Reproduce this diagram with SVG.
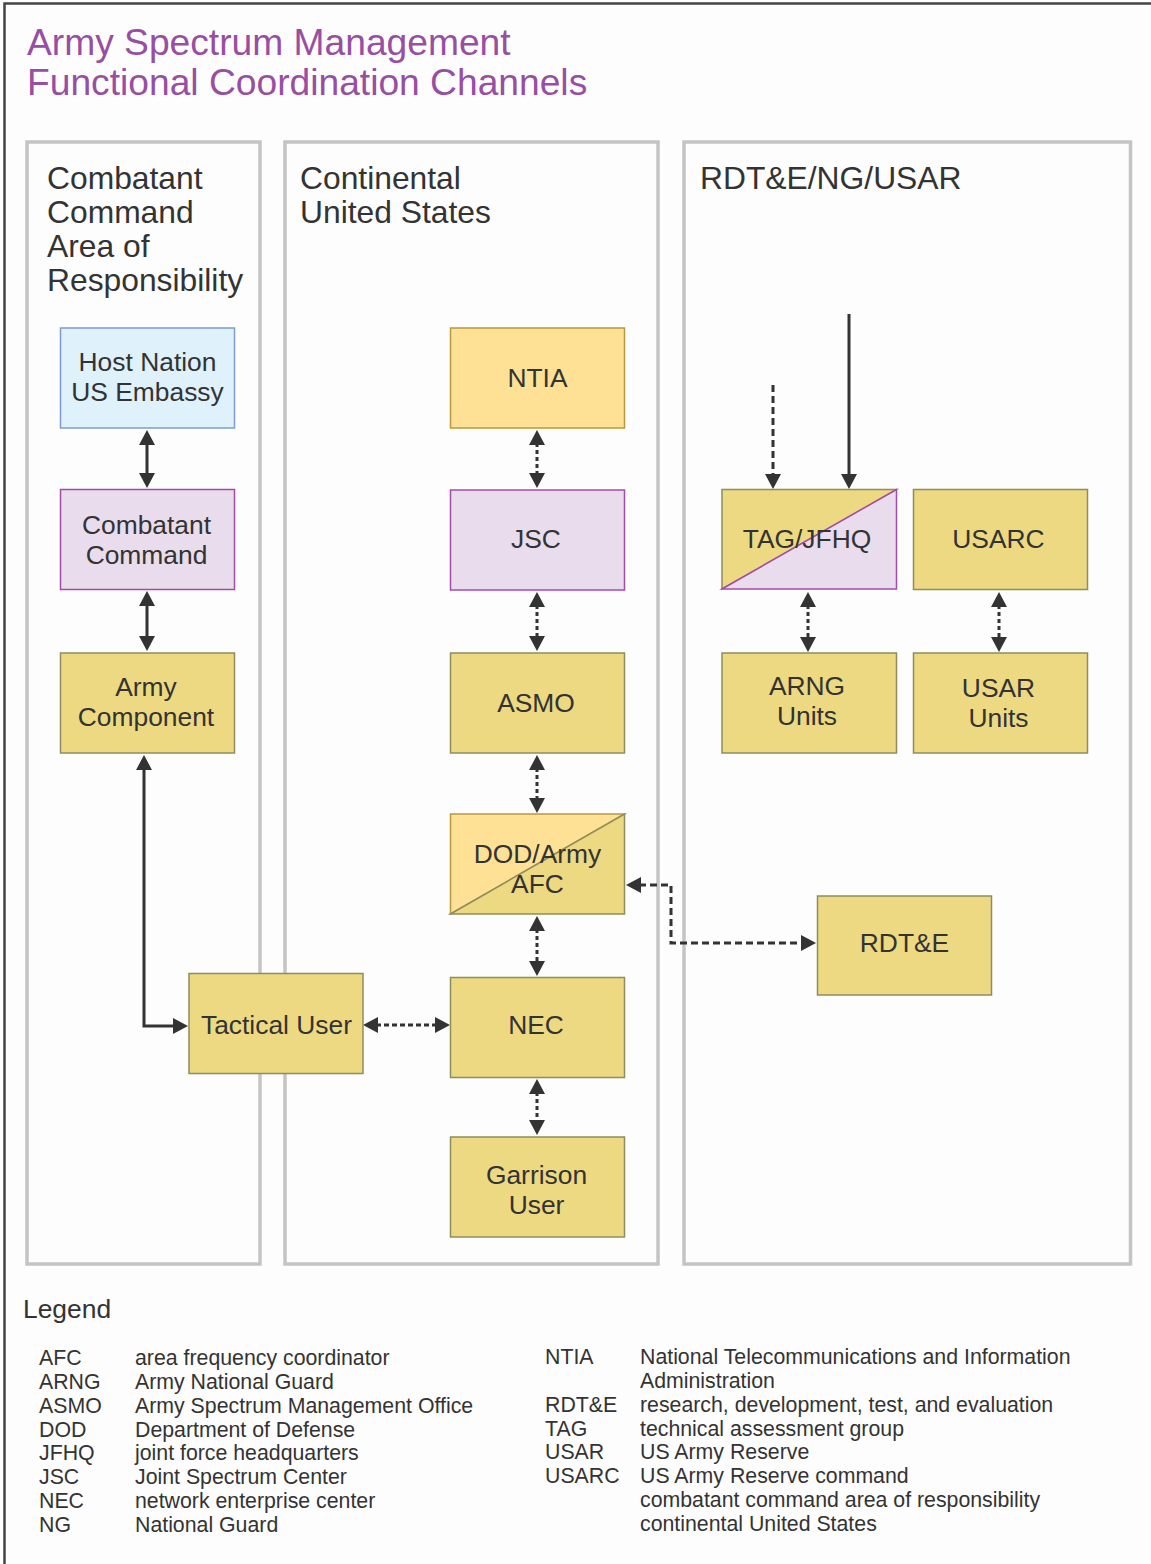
<svg xmlns="http://www.w3.org/2000/svg" width="1151" height="1564" viewBox="0 0 1151 1564">
<style>
text{font-family:"Liberation Sans",Arial,sans-serif;fill:#333333}
.title{font-size:37.2px;fill:#984ea3}
.hdr{font-size:31.8px}
.nt{font-size:26.4px;text-anchor:middle}
.lg{font-size:21.3px}
.panel{fill:none;stroke:#c4c4c4;stroke-width:3.5}
.yel{fill:#edd982;stroke:#8f8d5f;stroke-width:1.5}
.gold{fill:#ffe196;stroke:#b8993b;stroke-width:1.5}
.lil{fill:#e9dcec;stroke:#a54ba8;stroke-width:1.5}
.blu{fill:#dff1fb;stroke:#7c9cd3;stroke-width:1.5}
.c{fill:none;stroke:#333333;stroke-width:3}
.dot{stroke-dasharray:4 3}
.dsh{stroke-dasharray:7 4}
.tdot{stroke-dasharray:5 3}
.ab{marker-start:url(#ah);marker-end:url(#ah)}
.ae{marker-end:url(#ah)}
</style>
<defs>
<marker id="ah" markerUnits="userSpaceOnUse" markerWidth="16" markerHeight="16" refX="2" refY="8" orient="auto-start-reverse">
<path d="M0,0 L15,8 L0,16 Z" fill="#333333"/>
</marker>
</defs>
<rect x="0" y="0" width="1151" height="1564" fill="#fdfdfd"/>
<path d="M4.5,1564 V3.5 H1151" fill="none" stroke="#444444" stroke-width="2.5"/>
<g id="title">
<text class="title" x="27" y="55">Army Spectrum Management</text>
<text class="title" x="27" y="95">Functional Coordination Channels</text>
</g>
<g id="panels">
<rect class="panel" x="27" y="142" width="233" height="1122"/>
<rect class="panel" x="285" y="142" width="373" height="1122"/>
<rect class="panel" x="684" y="142" width="446.5" height="1122"/>
<text class="hdr" x="47" y="189">Combatant</text>
<text class="hdr" x="47" y="223">Command</text>
<text class="hdr" x="47" y="257">Area of</text>
<text class="hdr" x="47" y="291">Responsibility</text>
<text class="hdr" x="300" y="189">Continental</text>
<text class="hdr" x="300" y="223">United States</text>
<text class="hdr" x="700" y="189">RDT&amp;E/NG/USAR</text>
</g>
<g id="connectors">
<path class="c ab" d="M147,443 V475"/>
<path class="c ab" d="M147,604 V638"/>
<path class="c ab" d="M144,768 V1026 H175"/>
<path class="c dot ab" d="M537,443 V475"/>
<path class="c dot ab" d="M537,605 V638"/>
<path class="c dot ab" d="M537,768 V800"/>
<path class="c dot ab" d="M537,929 V963"/>
<path class="c dot ab" d="M537,1092 V1122"/>
<path class="c tdot ab" d="M376,1025 H437"/>
<path class="c dsh ab" d="M639,885 H671 V943 H803"/>
<path class="c dsh ae" d="M773,385 V476"/>
<path class="c ae" d="M849,314 V476"/>
<path class="c dot ab" d="M808,605 V639"/>
<path class="c dot ab" d="M999,605 V639"/>
</g>
<g id="host-nation">
<rect class="blu" x="60.5" y="328" width="174" height="100"/>
<text class="nt" x="147.5" y="371">Host Nation</text>
<text class="nt" x="147.5" y="401">US Embassy</text>
</g>
<g id="combatant-command">
<rect class="lil" x="60.5" y="489.5" width="174" height="100"/>
<text class="nt" x="146.5" y="534">Combatant</text>
<text class="nt" x="146.5" y="564">Command</text>
</g>
<g id="army-component">
<rect class="yel" x="60.5" y="653" width="174" height="100"/>
<text class="nt" x="146" y="696">Army</text>
<text class="nt" x="146" y="726">Component</text>
</g>
<g id="tactical-user">
<rect class="yel" x="189" y="973.5" width="174" height="100"/>
<text class="nt" x="276.5" y="1034">Tactical User</text>
</g>
<g id="ntia">
<rect class="gold" x="450.5" y="328" width="174" height="100"/>
<text class="nt" x="537.5" y="387">NTIA</text>
</g>
<g id="jsc">
<rect class="lil" x="450.5" y="490" width="174" height="100"/>
<text class="nt" x="536" y="548">JSC</text>
</g>
<g id="asmo">
<rect class="yel" x="450.5" y="653" width="174" height="100"/>
<text class="nt" x="536" y="712">ASMO</text>
</g>
<g id="dod-army-afc">
<polygon class="gold" points="450.5,914 450.5,814 624.5,814"/>
<polygon class="yel" points="450.5,914 624.5,814 624.5,914"/>
<text class="nt" x="537.5" y="863">DOD/Army</text>
<text class="nt" x="537.5" y="893">AFC</text>
</g>
<g id="nec">
<rect class="yel" x="450.5" y="977.5" width="174" height="100"/>
<text class="nt" x="536" y="1034">NEC</text>
</g>
<g id="garrison-user">
<rect class="yel" x="450.5" y="1137" width="174" height="100"/>
<text class="nt" x="536.5" y="1184">Garrison</text>
<text class="nt" x="536.5" y="1214">User</text>
</g>
<g id="rdte">
<rect class="yel" x="817.5" y="896" width="174" height="99"/>
<text class="nt" x="904.5" y="952">RDT&amp;E</text>
</g>
<g id="tag-jfhq">
<polygon class="yel" points="722,589 722,489.5 896.5,489.5"/>
<polygon class="lil" points="722,589 896.5,489.5 896.5,589"/>
<text class="nt" x="807" y="548">TAG/JFHQ</text>
</g>
<g id="usarc">
<rect class="yel" x="913.5" y="489.5" width="174" height="100"/>
<text class="nt" x="998.5" y="548">USARC</text>
</g>
<g id="arng-units">
<rect class="yel" x="722" y="653" width="174.5" height="100"/>
<text class="nt" x="807" y="695">ARNG</text>
<text class="nt" x="807" y="725">Units</text>
</g>
<g id="usar-units">
<rect class="yel" x="913.5" y="653" width="174" height="100"/>
<text class="nt" x="998.5" y="697">USAR</text>
<text class="nt" x="998.5" y="727">Units</text>
</g>
<g id="legend">
<text x="23" y="1318" style="font-size:26.4px">Legend</text>
<text class="lg" x="39" y="1365">AFC</text>
<text class="lg" x="135" y="1365">area frequency coordinator</text>
<text class="lg" x="39" y="1389">ARNG</text>
<text class="lg" x="135" y="1389">Army National Guard</text>
<text class="lg" x="39" y="1412.5">ASMO</text>
<text class="lg" x="135" y="1412.5">Army Spectrum Management Office</text>
<text class="lg" x="39" y="1436.5">DOD</text>
<text class="lg" x="135" y="1436.5">Department of Defense</text>
<text class="lg" x="39" y="1460">JFHQ</text>
<text class="lg" x="135" y="1460">joint force headquarters</text>
<text class="lg" x="39" y="1484">JSC</text>
<text class="lg" x="135" y="1484">Joint Spectrum Center</text>
<text class="lg" x="39" y="1508">NEC</text>
<text class="lg" x="135" y="1508">network enterprise center</text>
<text class="lg" x="39" y="1531.5">NG</text>
<text class="lg" x="135" y="1531.5">National Guard</text>
<text class="lg" x="545" y="1364">NTIA</text>
<text class="lg" x="640" y="1364">National Telecommunications and Information</text>
<text class="lg" x="640" y="1388">Administration</text>
<text class="lg" x="545" y="1411.5">RDT&amp;E</text>
<text class="lg" x="640" y="1411.5">research, development, test, and evaluation</text>
<text class="lg" x="545" y="1435.5">TAG</text>
<text class="lg" x="640" y="1435.5">technical assessment group</text>
<text class="lg" x="545" y="1459">USAR</text>
<text class="lg" x="640" y="1459">US Army Reserve</text>
<text class="lg" x="545" y="1483">USARC</text>
<text class="lg" x="640" y="1483">US Army Reserve command</text>
<text class="lg" x="640" y="1507">combatant command area of responsibility</text>
<text class="lg" x="640" y="1531">continental United States</text>
</g>
</svg>
